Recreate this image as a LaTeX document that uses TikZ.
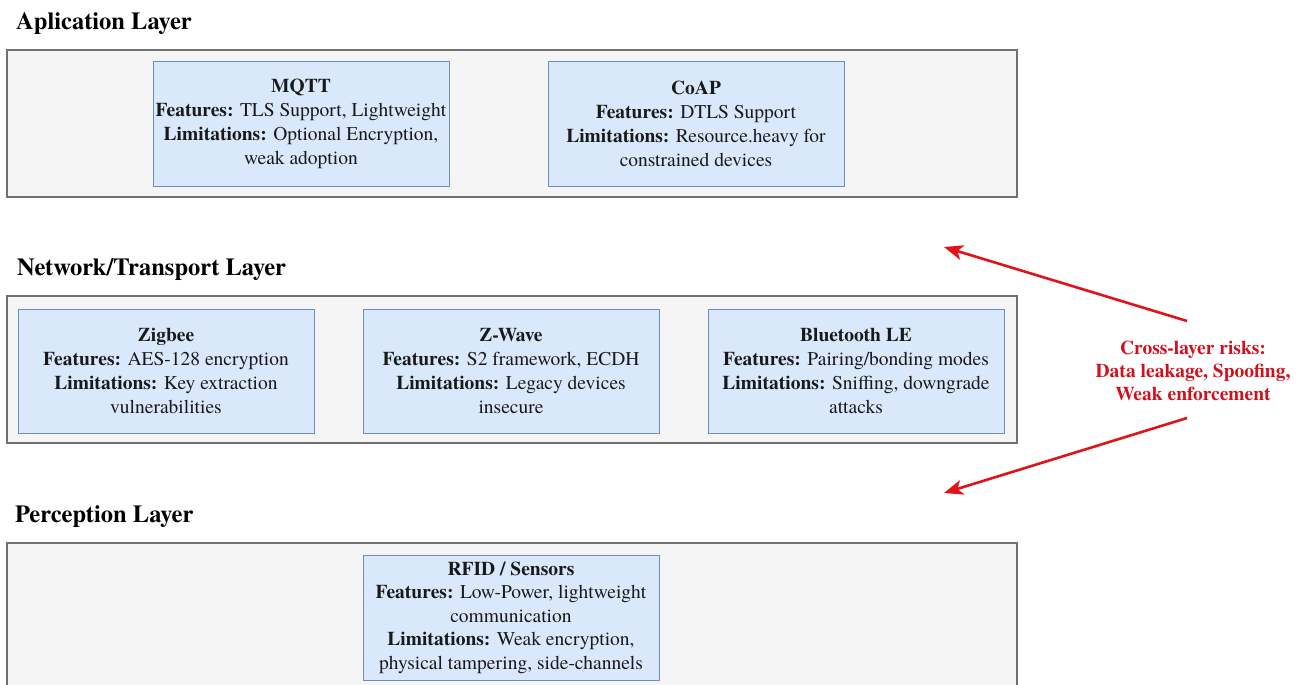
\documentclass[tikz,border=0pt]{standalone}
\usepackage{fontspec}
\setmainfont{texgyretermes}[
  Extension=.otf,
  UprightFont=*-regular,
  BoldFont=*-bold,
  ItalicFont=*-italic,
  BoldItalicFont=*-bolditalic]
\usetikzlibrary{arrows.meta}
\definecolor{layerfill}{HTML}{F5F5F5}
\definecolor{layerline}{HTML}{707070}
\definecolor{protofill}{HTML}{DAE8FC}
\definecolor{protoline}{HTML}{6C8EBF}
\definecolor{riskred}{HTML}{D0101C}
\definecolor{arrowred}{HTML}{E01418}
\tikzset{
  layerbox/.style={draw=layerline, fill=layerfill, line width=1.2pt},
  layertitle/.style={anchor=base west, inner sep=0pt, font=\fontsize{24.5}{28}\selectfont\bfseries},
  proto/.style={draw=protoline, fill=protofill, line width=1pt, minimum width=296pt,
    minimum height=124pt, align=center, inner sep=2pt,
    font=\fontsize{19.5}{24}\selectfont, text=black!90},
  risktext/.style={align=center, text=riskred, inner sep=0pt,
    font=\fontsize{19.5}{23}\selectfont\bfseries},
  riskarrow/.style={draw=arrowred, line width=2.6pt,
    -{Stealth[length=19pt, width=15pt, inset=5pt]}}
}
\begin{document}
\begin{tikzpicture}[x=1pt, y=-1pt]
\useasboundingbox (0,0) rectangle (1306,685);
\clip (0,0) rectangle (1306,685);

% layer frames
\draw[layerbox] (7,50) rectangle (1017,197);
\draw[layerbox] (7,296) rectangle (1017,443);
\draw[layerbox] (7,543) rectangle (1017,720);

% layer headings
\node[layertitle] (tapp) at (16,30) {Aplication Layer};
\node[layertitle] (tnet) at (17,275) {Network/Transport Layer};
\node[layertitle] (tper) at (15,522) {Perception Layer};

% application layer protocols
\node[proto] (mqtt) at (301,124) {\textbf{MQTT}\\\textbf{Features:} TLS Support, Lightweight\\\textbf{Limitations:} Optional Encryption,\\weak adoption};
\node[proto] (coap) at (696,124) {\textbf{CoAP}\\\textbf{Features:} DTLS Support\\\textbf{Limitations:} Resource.heavy for\\constrained devices};

% network/transport layer protocols
\node[proto] (zigbee) at (166,371) {\textbf{Zigbee}\\\textbf{Features:} AES-128 encryption\\\textbf{Limitations:} Key extraction\\vulnerabilities};
\node[proto] (zwave) at (511,371) {\textbf{Z-Wave}\\\textbf{Features:} S2 framework, ECDH\\\textbf{Limitations:} Legacy devices\\insecure};
\node[proto] (ble) at (856,371) {\textbf{Bluetooth LE}\\\textbf{Features:} Pairing/bonding modes\\\textbf{Limitations:} Sniffing, downgrade\\attacks};

% perception layer
\node[proto, minimum height=125pt, font=\fontsize{19.5}{23.5}\selectfont] (rfid) at (511,617.5) {\textbf{RFID / Sensors}\\\textbf{Features:} Low-Power, lightweight\\communication\\\textbf{Limitations:} Weak encryption,\\physical tampering, side-channels};

% cross-layer risk note and its arrows
\node[risktext] (risks) at (1193,371) {Cross-layer risks:\\Data leakage, Spoofing,\\Weak enforcement};
\coordinate (upTail) at (1187,321);
\coordinate (upTip) at (944,247);
\coordinate (downTail) at (1187,418);
\coordinate (downTip) at (944,493);
\draw[riskarrow] (upTail) -- (upTip);
\draw[riskarrow] (downTail) -- (downTip);
\end{tikzpicture}
\end{document}
